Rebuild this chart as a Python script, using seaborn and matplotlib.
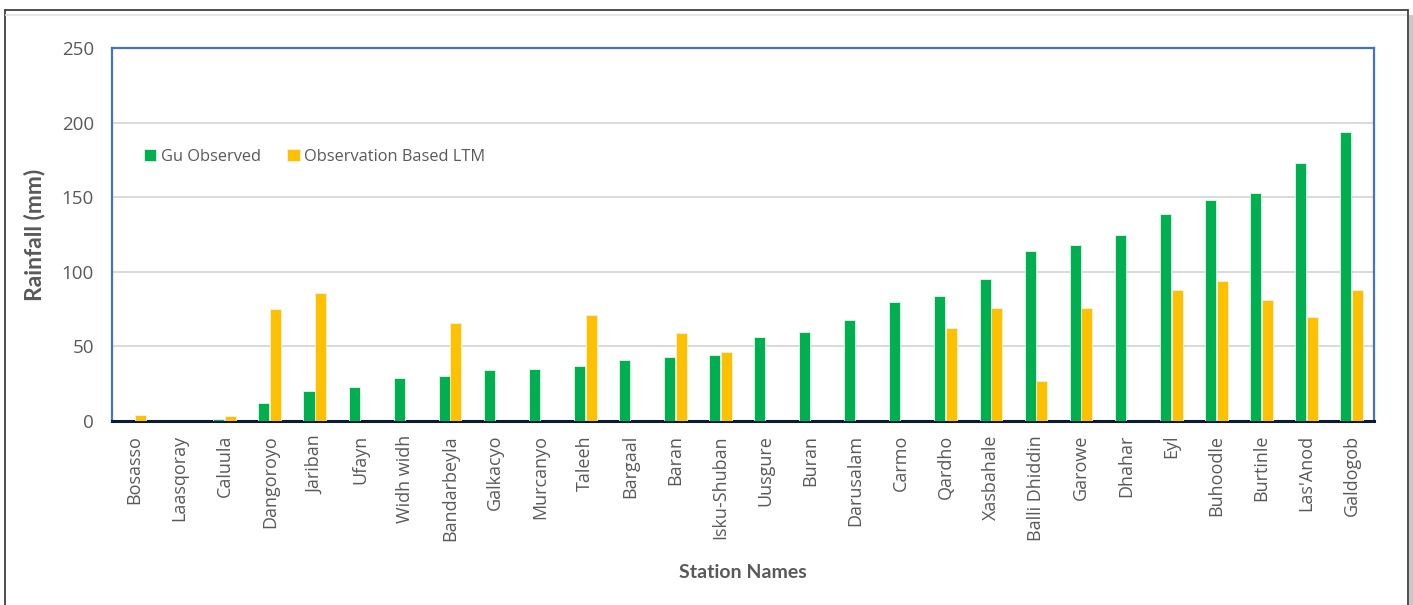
import matplotlib
matplotlib.use("Agg")
import matplotlib.pyplot as plt
from matplotlib.lines import Line2D
from matplotlib.patches import Rectangle
import seaborn as sns
import pandas as pd

stations = ["Bosasso", "Laasqoray", "Caluula", "Dangoroyo", "Jariban", "Ufayn",
            "Widh widh", "Bandarbeyla", "Galkacyo", "Murcanyo", "Taleeh", "Bargaal",
            "Baran", "Isku-Shuban", "Uusgure", "Buran", "Darusalam", "Carmo",
            "Qardho", "Xasbahale", "Balli Dhiddin", "Garowe", "Dhahar", "Eyl",
            "Buhoodle", "Burtinle", "Las'Anod", "Galdogob"]
gu_observed = [0, 0, 1.6, 12, 20, 23, 29, 30, 34, 35, 37, 41,
               43, 44, 56.5, 59.5, 67.5, 80, 84, 95, 114, 118, 124.5, 138.5,
               148, 153, 173, 194]
ltm = [4, 0, 3.5, 75, 86, 0, 0, 65.5, 0, 0, 71, 0,
       59, 46, 0, 0, 0, 0, 62.5, 75.5, 26.5, 76, 0, 88,
       94, 81, 69.5, 88]
series_names = ["Gu Observed", "Observation Based LTM"]
series_colors = ["#00B050", "#FFC000"]
y_ticks = [0, 50, 100, 150, 200, 250]

df = pd.DataFrame({
    "Station": stations * 2,
    "Rainfall": gu_observed + ltm,
    "Series": [series_names[0]] * len(stations) + [series_names[1]] * len(stations),
})

sns.set_theme(style="white")
plt.rcParams["font.family"] = ["Open Sans", "DejaVu Sans"]

fig = plt.figure(figsize=(14.13, 6.05), dpi=100)
ax = fig.add_axes([0.0793, 0.3041, 0.8931, 0.6166])

sns.barplot(data=df, x="Station", y="Rainfall", hue="Series",
            hue_order=series_names, palette=series_colors, order=stations,
            saturation=1, width=0.52, gap=0.06, edgecolor="#E8F5E9",
            linewidth=0.6, errorbar=None, ax=ax, zorder=3)

ax.set_ylim(0, 250)
ax.set_yticks(y_ticks)
ax.set_xlim(-0.5, len(stations) - 0.5)
ax.yaxis.grid(True, color="#D9D9D9", linewidth=1.4, zorder=0)
ax.xaxis.grid(False)
ax.set_axisbelow(True)

tick_gray = "#595959"
ax.tick_params(axis="y", length=0, pad=13, labelsize=13.5, labelcolor=tick_gray)
ax.tick_params(axis="x", length=0, pad=10, labelsize=13, labelcolor=tick_gray,
               rotation=90)

for side in ("left", "top", "right"):
    ax.spines[side].set_color("#4472C4")
    ax.spines[side].set_linewidth(1.6)
ax.spines["bottom"].set_color("#0D1A33")
ax.spines["bottom"].set_linewidth(2.2)

ax.set_ylabel("Rainfall (mm)", fontsize=16.5, fontweight="bold", color=tick_gray,
              family=["Lato", "DejaVu Sans"], labelpad=12)
ax.set_xlabel("Station Names", fontsize=14, fontweight="bold", color=tick_gray,
              family=["Lato", "DejaVu Sans"], labelpad=17)

leg = ax.legend(loc="center left", bbox_to_anchor=(0.02, 0.708), ncol=2,
                frameon=False, fontsize=11.8, handlelength=0.75, handleheight=0.75,
                handletextpad=0.3, columnspacing=1.6, borderaxespad=0)
for txt in leg.get_texts():
    txt.set_color(tick_gray)

# outer frame: top, left and right edges with a soft shadow on the right
frame_kw = dict(transform=fig.transFigure, color="#404040", linewidth=1.3)
fig.lines.append(Line2D([0.0035, 0.9963], [0.9835, 0.9835], **frame_kw))
fig.lines.append(Line2D([0.0035, 0.0035], [0.0, 0.9835], **frame_kw))
fig.lines.append(Line2D([0.9963, 0.9963], [0.0, 0.9835], **frame_kw))
fig.lines.append(Line2D([0.0045, 0.995], [0.975, 0.975], transform=fig.transFigure,
                        color="#E6E6E6", linewidth=1.5))
fig.patches.append(Rectangle((0.9972, 0.0), 0.0028, 0.975, transform=fig.transFigure,
                             facecolor="#C8C8C8", edgecolor="none"))

fig.savefig("out.png", dpi=100, facecolor="white")
